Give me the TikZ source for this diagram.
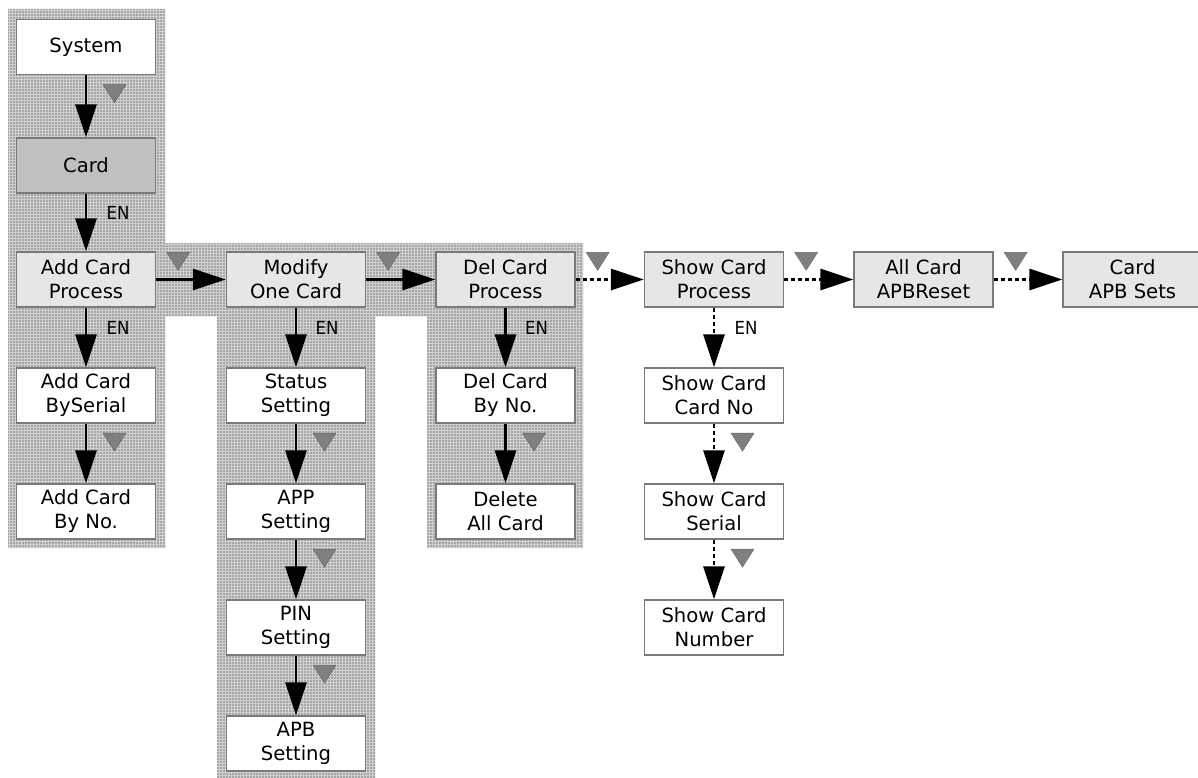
\documentclass[tikz,border=0pt]{standalone}
\usepackage{fontspec}
\setmainfont{DejaVu Sans}
\newfontfamily\enfont[FakeStretch=0.92]{DejaVu Sans}
\usetikzlibrary{arrows.meta,patterns}
\definecolor{boxedge}{HTML}{7A7A7A}
\definecolor{lightfill}{HTML}{E6E6E6}
\definecolor{darkfill}{HTML}{C0C0C0}
\definecolor{markfill}{HTML}{7F7F7F}
\definecolor{shadefill}{HTML}{A6A6A6}
\definecolor{shadeline}{HTML}{D0D0D0}
\begin{document}
\begin{tikzpicture}[x=1pt,y=-1pt,
  box/.style={draw=boxedge, line width=1.3pt, minimum width=139pt, minimum height=55pt,
    inner sep=0pt, align=center, font=\fontsize{19.6}{24}\selectfont},
  plain/.style={box, fill=white},
  proc/.style={box, fill=lightfill},
  sel/.style={box, fill=darkfill},
  link/.style={line width=2.8pt, -{Triangle[length=33pt,width=21pt]}},
  dotlink/.style={link, dash pattern=on 4pt off 3pt},
  enlabel/.style={font=\enfont\fontsize{18}{18}\selectfont, inner sep=0pt},
  marker/.pic={\fill[markfill, draw=markfill!80!black, line width=0.4pt]
    (-11.5,0) -- (11.5,0) -- (0,18) -- cycle;}
]
\useasboundingbox (0,0) rectangle (1198,778);
\clip (0,0) rectangle (1198,778);

% shaded background
\path[fill=shadefill, postaction={pattern=grid, pattern color=shadeline}]
  (8,9) -- (165,9) -- (165,243) -- (583,243) -- (583,548) -- (427,548)
  -- (427,316) -- (375,316) -- (375,778) -- (217,778) -- (217,316)
  -- (165,316) -- (165,548) -- (8,548) -- cycle;

% nodes
\node[plain] (sys)    at (86,47)     {System};
\node[sel]   (card)   at (86,165.5)  {Card};
\node[proc]  (add)    at (86,279.5)  {Add Card\\Process};
\node[plain] (addser) at (86,395.5)  {Add Card\\BySerial};
\node[plain] (addno)  at (86,511.5)  {Add Card\\By No.};

\node[proc]  (mod)    at (296,279.5) {Modify\\One Card};
\node[plain] (stat)   at (296,395.5) {Status\\Setting};
\node[plain] (app)    at (296,511.5) {APP\\Setting};
\node[plain] (pin)    at (296,627.5) {PIN\\Setting};
\node[plain] (apb)    at (296,743.5) {APB\\Setting};

\node[proc]  (del)    at (505.5,279.5) {Del Card\\Process};
\node[plain] (delno)  at (505.5,395.5) {Del Card\\By No.};
\node[plain] (delall) at (505.5,511.5) {Delete\\All Card};

\node[proc]  (show)   at (714,279.5) {Show Card\\Process};
\node[plain] (scno)   at (714,395.5) {Show Card\\Card No};
\node[plain] (scser)  at (714,511.5) {Show Card\\Serial};
\node[plain] (scnum)  at (714,627.5) {Show Card\\Number};

\node[proc]  (allr)   at (923.5,279.5) {All Card\\APBReset};
\node[proc]  (sets)   at (1132.5,279.5) {Card\\APB Sets};

% connectors
\draw[link] (sys) -- (card);
\draw[link] (card) -- (add);
\draw[link] (add) -- (addser);
\draw[link] (addser) -- (addno);
\draw[link] (add) -- (mod);
\draw[link] (mod) -- (del);
\draw[dotlink] (del) -- (show);
\draw[dotlink] (show) -- (allr);
\draw[dotlink] (allr) -- (sets);
\draw[link] (mod) -- (stat);
\draw[link] (stat) -- (app);
\draw[link] (app) -- (pin);
\draw[link] (pin) -- (apb);
\draw[link] (del) -- (delno);
\draw[link] (delno) -- (delall);
\draw[dotlink] (show) -- (scno);
\draw[dotlink] (scno) -- (scser);
\draw[dotlink] (scser) -- (scnum);

% EN labels
\path (card.south) ++(32,19) node[enlabel] (en1) {EN};
\path (add.south)  ++(32,20) node[enlabel] (en2) {EN};
\path (mod.south)  ++(31,20) node[enlabel] (en3) {EN};
\path (del.south)  ++(31,20) node[enlabel] (en4) {EN};
\path (show.south) ++(32,20) node[enlabel] (en5) {EN};

% markers (vertical)
\path (sys.south)    ++(28.5,9.5) pic {marker};
\path (addser.south) ++(28.5,9.5) pic {marker};
\path (stat.south)   ++(28.5,9.5) pic {marker};
\path (app.south)    ++(28.5,9.5) pic {marker};
\path (pin.south)    ++(28.5,9.5) pic {marker};
\path (delno.south)  ++(28.5,9.5) pic {marker};
\path (scno.south)   ++(28.5,9.5) pic {marker};
\path (scser.south)  ++(28.5,9.5) pic {marker};
% markers (horizontal)
\path (add.north east)  ++(22,1) pic {marker};
\path (mod.north east)  ++(22,1) pic {marker};
\path (del.north east)  ++(22,1) pic {marker};
\path (show.north east) ++(22,1) pic {marker};
\path (allr.north east) ++(22,1) pic {marker};
\end{tikzpicture}
\end{document}
